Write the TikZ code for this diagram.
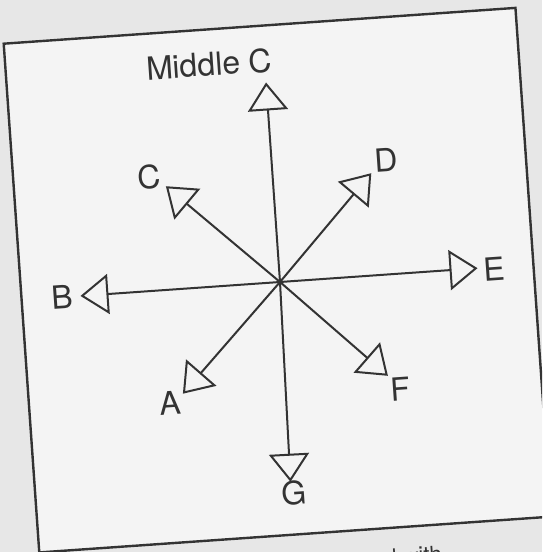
\documentclass[tikz,border=0pt]{standalone}
\usepackage{fontspec}
\setsansfont{TeX Gyre Heros}
\usetikzlibrary{arrows.meta}
\definecolor{cink}{HTML}{333333}
\definecolor{cpaper}{HTML}{E7E7E7}
\definecolor{csheet}{HTML}{F4F4F4}
\tikzset{
  every picture/.style={font=\sffamily, line width=2pt},
  frame/.style={draw=cink, fill=csheet, line width=2.4pt},
  pointer/.style={draw=cink, line width=2pt, -{Triangle[open, length=28pt, width=40pt]}},
  tag/.style={text=cink, inner sep=0pt, font=\sffamily\fontsize{32}{36}\selectfont},
  caption/.style={text=cink, inner sep=0pt, anchor=base west, font=\sffamily\fontsize{22}{26}\selectfont},
}

\begin{document}
\begin{tikzpicture}[x=1pt, y=1pt]
  \fill[cpaper] (0,0) rectangle (542,552);
  \useasboundingbox (0,0) rectangle (542,552);
  \clip (0,0) rectangle (542,552);
  \coordinate (hub) at (280,270);
  \begin{scope}[shift={(hub)}, rotate=4, transform shape]
    \draw[frame] (-259,257) rectangle (254,-253);
    \coordinate (o) at (0,0);
    \foreach \name/\ang/\len in {midc/90/200, e/0/198, b/180/200, g/269/200,
                                 c/136/149, d/46/142, f/-45/143, a/225/148}
      \coordinate (\name) at (\ang:\len);
    \foreach \name in {midc, e, b, g, c, d, f, a}
      \draw[pointer] (o) -- (\name);
    \node[tag] (lmidc) at (104:229) {Middle C};
    \node[tag] (lb) at (180:218.5) {B};
    \node[tag] (le) at (-0.5:214.5) {E};
    \node[tag] (lg) at (-90.2:211.5) {G};
    \node[tag] (lc) at (137.2:167.5) {C};
    \node[tag] (ld) at (45:161.6) {D};
    \node[tag] (lf) at (-45.7:160.8) {F};
    \node[tag] (la) at (223.7:163.5) {A};
    \node[caption] (cap) at (84,-290) {d with};
  \end{scope}
\end{tikzpicture}
\end{document}
